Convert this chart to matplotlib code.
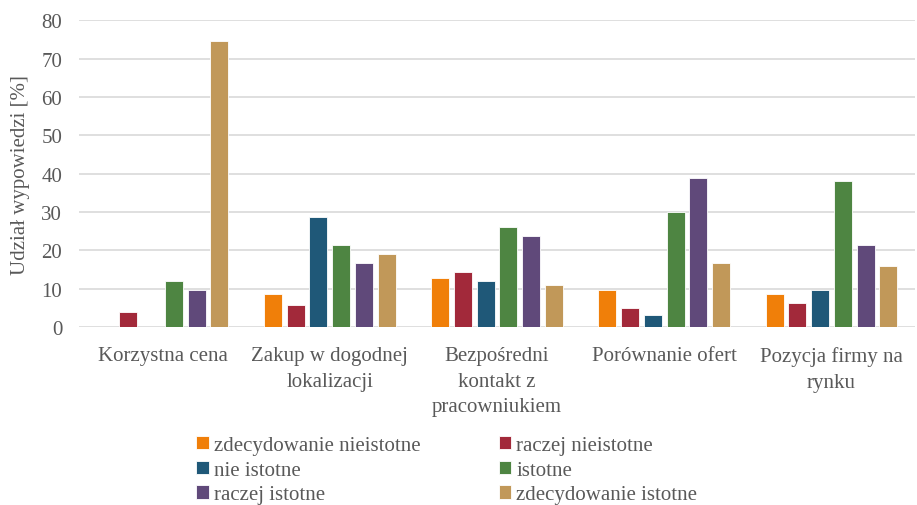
import numpy as np
import matplotlib.pyplot as plt

plt.rcParams['font.family'] = ['Liberation Serif', 'DejaVu Serif']

categories = ["Korzystna cena", "Zakup w dogodnej\nlokalizacji",
              "Bezpośredni\nkontakt z\npracowniukiem", "Porównanie ofert",
              "Pozycja firmy na\nrynku"]
series_names = ["zdecydowanie nieistotne", "raczej nieistotne", "nie istotne",
                "istotne", "raczej istotne", "zdecydowanie istotne"]
values = [
    [0.0, 8.6, 12.7, 9.5, 8.6],      # zdecydowanie nieistotne
    [3.9, 5.6, 14.2, 4.8, 6.2],      # raczej nieistotne
    [0.0, 28.6, 11.9, 3.2, 9.5],     # nie istotne
    [11.9, 21.3, 26.1, 30.0, 38.1],  # istotne
    [9.5, 16.7, 23.7, 38.9, 21.3],   # raczej istotne
    [74.5, 19.0, 11.0, 16.7, 15.9],  # zdecydowanie istotne
]
colors = ["#F07F09", "#A2293A", "#1F5878", "#4E8542", "#60497A", "#C19859"]

text_col = "#595959"
fs = 15
fig = plt.figure(figsize=(9.17, 5.06), dpi=100)
ax = fig.add_axes([0.086, 0.352, 0.912, 0.606])

x = np.arange(len(categories))
step = 0.136
width = 0.108
bars = []
for i, (name, vals, c) in enumerate(zip(series_names, values, colors)):
    b = ax.bar(x + (i - 2.5) * step, vals, width, color=c, label=name,
               edgecolor="white", linewidth=0.6, zorder=3)
    bars.append(b)

ax.set_xlim(-0.5, len(categories) - 0.5)
ax.set_ylim(0, 80)
ax.set_yticks(range(0, 81, 10))
ax.set_xticks(x)
ax.set_xticklabels(categories, linespacing=1.45)
ax.tick_params(axis="both", length=0, labelsize=fs, colors=text_col)
ax.tick_params(axis="x", pad=14)
ax.tick_params(axis="y", pad=12)
ax.grid(axis="y", color="#d9d9d9", linewidth=1.2, zorder=0)
for s in ax.spines.values():
    s.set_visible(False)
ax.set_ylabel("Udział wypowiedzi [%]", fontsize=fs, color=text_col, labelpad=8)

# legend filled row by row like the original
order = [0, 2, 4, 1, 3, 5]
leg = fig.legend([bars[i] for i in order], [series_names[i] for i in order],
                 loc="upper left", bbox_to_anchor=(0.214, 0.136), ncol=2,
                 frameon=False, fontsize=fs, handlelength=0.6, handleheight=0.6,
                 handletextpad=0.25, columnspacing=3.75, labelspacing=0.27,
                 borderaxespad=0, borderpad=0)
for t in leg.get_texts():
    t.set_color(text_col)

fig.savefig("out.png", dpi=100)
